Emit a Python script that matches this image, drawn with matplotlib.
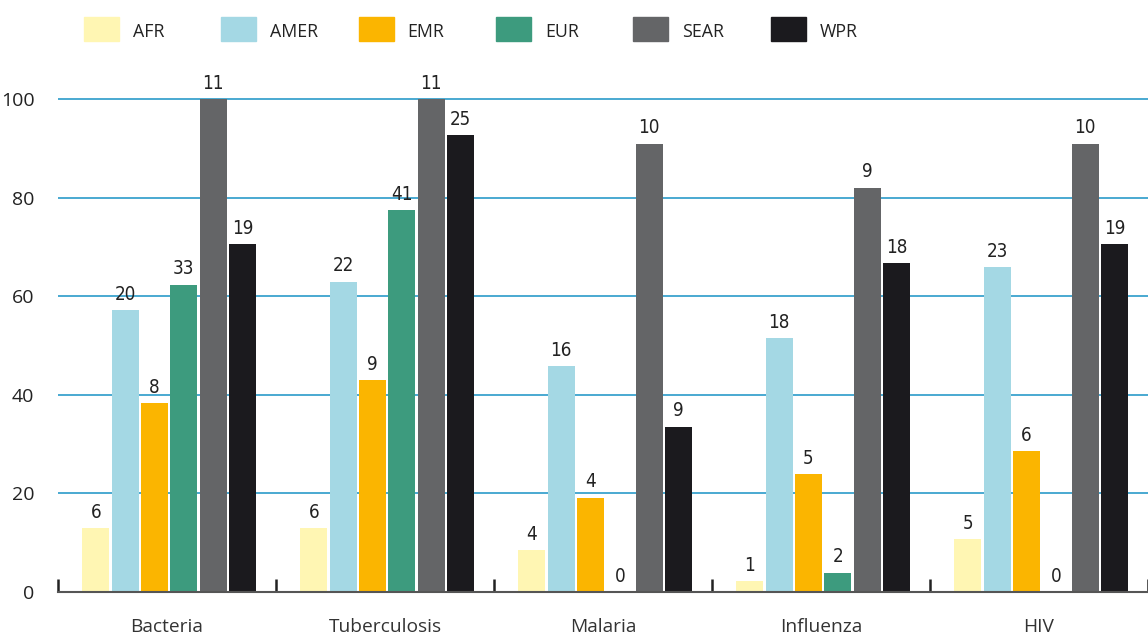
import numpy as np
import matplotlib
matplotlib.use('Agg')
import matplotlib.pyplot as plt
from matplotlib.patches import Rectangle
from matplotlib import font_manager

categories = ['Bacteria', 'Tuberculosis', 'Malaria', 'Influenza', 'HIV']
regions = ['AFR', 'AMER', 'EMR', 'EUR', 'SEAR', 'WPR']
colors = ['#FFF6B3', '#A4D8E4', '#FBB500', '#3D9B7E', '#646567', '#1B1A1E']

# bar heights (%) per region, one value per category
pct = {
    'AFR':  [13, 13, 8.5, 2.2, 10.7],
    'AMER': [57.2, 62.9, 45.8, 51.5, 65.9],
    'EMR':  [38.3, 43, 19.1, 23.9, 28.6],
    'EUR':  [62.3, 77.5, 0, 3.9, 0],
    'SEAR': [100, 100, 90.9, 82, 90.9],
    'WPR':  [70.6, 92.7, 33.5, 66.7, 70.6],
}
# numbers printed above the bars
counts = {
    'AFR':  [6, 6, 4, 1, 5],
    'AMER': [20, 22, 16, 18, 23],
    'EMR':  [8, 9, 4, 5, 6],
    'EUR':  [33, 41, 0, 2, 0],
    'SEAR': [11, 11, 10, 9, 10],
    'WPR':  [19, 25, 9, 18, 19],
}

W, H = 1148, 635
fig = plt.figure(figsize=(W / 100, H / 100), dpi=100)
plt.rcParams['font.family'] = ['Open Sans', 'DejaVu Sans']

# narrow font for the bar numbers if one is around
installed = font_manager.fontManager.ttflist
num_kw = dict(family=['Open Sans', 'DejaVu Sans'], fontsize=13.5)
if any(f.name == 'Liberation Sans Narrow' for f in installed):
    num_kw = dict(family=['Liberation Sans Narrow', 'DejaVu Sans'], fontsize=14.5)
elif any(f.name == 'DejaVu Sans' and f.stretch == 'condensed' for f in installed):
    num_kw = dict(family=['DejaVu Sans'], fontstretch='condensed', fontsize=13.5)

px_per = (592 - 99) / 100.0
ymax = 120
ax = fig.add_axes([58 / W, (H - 592) / H, 1 - 58 / W, ymax * px_per / H])

x = np.arange(len(categories))
step = 0.1345
bw = 0.123
for j, r in enumerate(regions):
    xs = x + (j - 2.5) * step + 0.01
    ax.bar(xs, pct[r], width=bw, color=colors[j], zorder=3)
    for xi, h, c in zip(xs, pct[r], counts[r]):
        ax.text(xi, h + 1.3, str(c), ha='center', va='bottom',
                color='#222222', zorder=4, **num_kw)

ax.set_ylim(0, ymax)
ax.set_xlim(-0.5, -0.5 + (W - 58) / 220.0)
ax.set_yticks([0, 20, 40, 60, 80, 100])
ax.tick_params(axis='y', length=0, pad=17, labelsize=14, labelcolor='#222222')
ax.yaxis.grid(True, color='#2A9BC9', linewidth=1.2, zorder=1)

ax.set_xticks(np.arange(len(categories) + 1) - 0.5)
ax.set_xticklabels([])
ax.set_xticks(x, minor=True)
ax.set_xticklabels(categories, minor=True)
ax.tick_params(axis='x', which='major', direction='in', length=9.5, width=1.8,
               color='#222222')
ax.tick_params(axis='x', which='minor', length=0, pad=19, labelsize=13.8,
               labelcolor='#333333')

for s in ['top', 'right', 'left']:
    ax.spines[s].set_visible(False)
ax.spines['bottom'].set_color('#555555')
ax.spines['bottom'].set_linewidth(1.5)
ax.spines['bottom'].set_zorder(5)

# legend across the top
for j, r in enumerate(regions):
    left = 84 + j * 137.3
    fig.patches.append(Rectangle((left / W, 1 - 41 / H), 35 / W, 24 / H,
                                 transform=fig.transFigure, color=colors[j]))
    fig.text((left + 49) / W, 1 - 32 / H, r, ha='left', va='center',
             fontsize=12.8, color='#222222')

fig.savefig('out.png', dpi=100)
